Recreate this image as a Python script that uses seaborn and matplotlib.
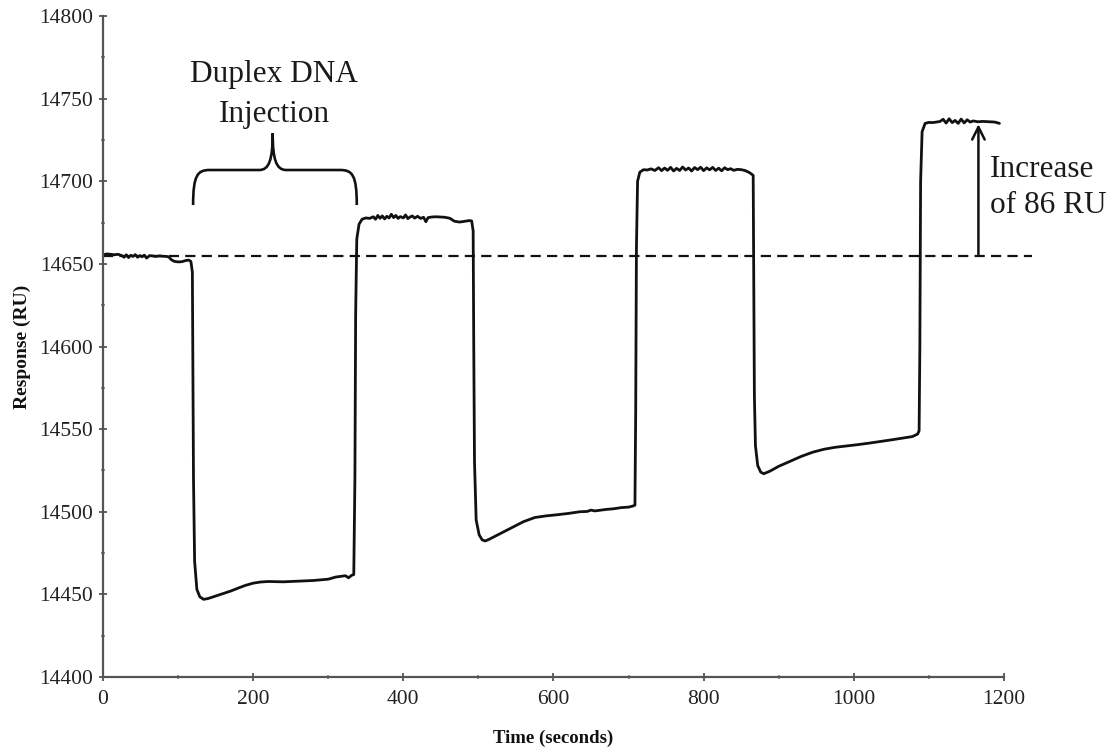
import numpy as np
import pandas as pd
import matplotlib
matplotlib.use("Agg")
import matplotlib.pyplot as plt
from matplotlib.path import Path
from matplotlib.patches import PathPatch
import seaborn as sns

# ---------------- data ----------------
time_s = [
    0, 5, 10, 15, 20, 25, 28, 31, 34, 37, 40, 43, 46, 49, 52, 55, 58, 62, 66, 70,
    75, 80, 85, 88, 91, 95, 100, 105, 110, 114, 117,
    119, 119.5, 120.5, 122, 125, 129, 134, 140, 150, 160, 170, 180, 190, 200, 210,
    220, 240, 260, 280, 300, 310, 318, 323, 327, 331, 334,
    335.5, 336.5, 338, 341, 345, 350, 355, 360, 363, 366, 369, 372, 375, 378, 381,
    384, 387, 390, 393, 396, 400, 403, 406, 409, 412, 415, 419, 423, 427, 430, 433,
    437, 442, 448, 455, 462, 468, 475, 482, 488, 491,
    493, 493.8, 494.8, 497, 501, 505, 509, 515, 530, 545, 560, 575, 590, 605, 620,
    635, 645, 650, 655, 660, 670, 680, 690, 700, 706, 708.5,
    709.5, 710.5, 712, 715, 720, 725, 730, 735, 740, 744, 748, 752, 756, 760, 764,
    768, 772, 776, 780, 784, 788, 792, 796, 800, 804, 808, 812, 816, 820, 824, 828,
    832, 836, 840, 845, 850, 855, 860, 864, 866,
    866.8, 867.6, 869, 872, 876, 880, 888, 900, 915, 930, 945, 960, 975, 990, 1005,
    1020, 1035, 1050, 1065, 1078, 1085, 1087,
    1088, 1089, 1091, 1095, 1100, 1105, 1110, 1115, 1119, 1123, 1127, 1131, 1135,
    1139, 1143, 1147, 1151, 1155, 1159, 1165, 1172, 1180, 1188, 1194,
]
response_ru = [
    14655.5, 14656, 14655.8, 14655.5, 14655.8, 14655, 14654, 14655.5, 14653.8, 14655.2,
    14654.5, 14655.6, 14654, 14655, 14654.3, 14655.3, 14653.5, 14655, 14654.8, 14654.5,
    14654.8, 14654.6, 14654.5, 14654, 14652.5, 14651.5, 14651.2, 14651.3, 14652, 14652.3,
    14651.5,
    14645, 14600, 14520, 14470, 14453, 14448.5, 14447, 14447.5, 14449, 14450.5, 14452,
    14453.8, 14455.5, 14456.8, 14457.5, 14457.8, 14457.6, 14458, 14458.4, 14459.2,
    14460.5, 14461, 14461.3, 14460, 14461.5, 14462,
    14520, 14620, 14665, 14674, 14677, 14677.8, 14677.5, 14678.5, 14677, 14679.3,
    14677.6, 14679, 14677.2, 14678.8, 14677.8, 14680, 14678, 14679.3, 14677.5, 14678.6,
    14677.8, 14679.6, 14677.4, 14678.4, 14679, 14677.7, 14678.8, 14677.5, 14678.2,
    14675.5, 14678, 14678.3, 14678.5, 14678.4, 14678.2, 14677.6, 14675.8, 14675.3,
    14675.8, 14676.2, 14676,
    14670, 14600, 14530, 14495, 14486, 14483, 14482.3, 14483.5, 14487, 14490.5, 14494,
    14496.5, 14497.5, 14498.2, 14499, 14500, 14500.2, 14501, 14500.5, 14500.8, 14501.4,
    14501.8, 14502.5, 14502.8, 14503.5, 14504,
    14560, 14660, 14700, 14705.5, 14707, 14706.8, 14707.5, 14706.5, 14708.2, 14706.4,
    14708, 14706.6, 14708.4, 14706.2, 14707.8, 14706.5, 14708.6, 14706.8, 14708,
    14706.2, 14708.3, 14707, 14708.5, 14706.4, 14708.1, 14706.9, 14708.4, 14706.5,
    14707.9, 14706.3, 14708.2, 14707, 14707.6, 14706.6, 14707.2, 14707, 14706.5,
    14705.5, 14704.3, 14703.5,
    14640, 14570, 14540, 14528, 14524, 14523, 14524.5, 14527.5, 14530.5, 14533.5,
    14536, 14537.8, 14539, 14539.8, 14540.6, 14541.5, 14542.5, 14543.5, 14544.6,
    14545.5, 14547, 14549,
    14600, 14700, 14730, 14735, 14735.6, 14735.5, 14735.8, 14736.2, 14737.5, 14735.2,
    14737.8, 14735.5, 14736.8, 14735, 14737.6, 14735.3, 14737.2, 14735.8, 14736.5,
    14736, 14736.2, 14736, 14735.8, 14735,
]

baseline_ru = 14655
increase_ru = 86
arrow_time = 1166
dash_end_time = 1238

brace_left, brace_right, brace_mid = 120, 338, 226
brace_foot, brace_bar, brace_tip = 14685.6, 14706.8, 14729

x_ticks = [0, 200, 400, 600, 800, 1000, 1200]
y_ticks = [14400, 14450, 14500, 14550, 14600, 14650, 14700, 14750, 14800]

df = pd.DataFrame({"Time (seconds)": time_s, "Response (RU)": response_ru})

# ---------------- figure ----------------
sns.set_style("ticks")
plt.rcParams["font.family"] = ["Liberation Serif", "DejaVu Serif"]

fig = plt.figure(figsize=(11.15, 7.54), dpi=100)
ax = fig.add_axes([0.0924, 0.1021, 0.8080, 0.8767])

sns.lineplot(data=df, x="Time (seconds)", y="Response (RU)", sort=False,
             estimator=None, color="#111111", linewidth=2.0, ax=ax)

# dashed baseline
ax.plot([0, dash_end_time], [baseline_ru, baseline_ru], color="#111111",
        linewidth=1.6, dashes=(4.6, 2.8), clip_on=False, zorder=1)

# arrow
ax.annotate("", xy=(arrow_time, baseline_ru + increase_ru - 6.5),
            xytext=(arrow_time, baseline_ru), xycoords="data",
            arrowprops=dict(arrowstyle="->,head_length=0.9,head_width=0.45",
                            color="#111111", lw=1.8, shrinkA=0, shrinkB=0))
ax.text(arrow_time + 15, 14702.6, "Increase", fontsize=22.5, ha="left",
        va="baseline", color="#1a1a1a")
ax.text(arrow_time + 15, 14680.8, "of 86 RU", fontsize=22.5, ha="left",
        va="baseline", color="#1a1a1a")

# brace
L, R, M = brace_left, brace_right, brace_mid
verts = [
    (L, brace_foot),
    (L, brace_bar - 3), (L + 6, brace_bar), (L + 22, brace_bar),
    (M - 18, brace_bar),
    (M - 5, brace_bar), (M, brace_bar + 6), (M, brace_tip),
    (M, brace_bar + 6), (M + 5, brace_bar), (M + 18, brace_bar),
    (R - 22, brace_bar),
    (R - 6, brace_bar), (R, brace_bar - 3), (R, brace_foot),
]
codes = [Path.MOVETO, Path.CURVE4, Path.CURVE4, Path.CURVE4, Path.LINETO,
         Path.CURVE4, Path.CURVE4, Path.CURVE4, Path.CURVE4, Path.CURVE4,
         Path.CURVE4, Path.LINETO, Path.CURVE4, Path.CURVE4, Path.CURVE4]
ax.add_patch(PathPatch(Path(verts, codes), facecolor="none", edgecolor="#111111",
                       lw=1.9, clip_on=False))
ax.text(M + 2, 14760, "Duplex DNA", fontsize=22.5, ha="center", va="baseline",
        color="#1a1a1a")
ax.text(M + 2, 14735.9, "Injection", fontsize=22.5, ha="center", va="baseline",
        color="#1a1a1a")

# axes styling
ax.set_xlim(0, 1200)
ax.set_ylim(14400, 14800)
ax.set_xticks(x_ticks)
ax.set_yticks(y_ticks)
ax.set_xticks([100, 300, 500, 700, 900, 1100], minor=True)
ax.set_yticks([14425, 14475, 14525, 14575, 14625, 14675, 14725, 14775], minor=True)
for s in ("top", "right"):
    ax.spines[s].set_visible(False)
for s in ("left", "bottom"):
    ax.spines[s].set_color("#555555")
    ax.spines[s].set_linewidth(1.6)
ax.tick_params(axis="both", which="major", direction="inout", length=6,
               width=1.3, color="#555555", labelsize=15.5, labelcolor="#222222",
               pad=4)
ax.tick_params(axis="both", which="minor", direction="inout", length=3,
               width=1.1, color="#777777")
ax.tick_params(axis="x", which="major", pad=6)
ax.set_xlabel("Time (seconds)", fontsize=13.5, fontweight="bold", labelpad=15,
              color="#111111")
ax.set_ylabel("Response (RU)", fontsize=14, fontweight="bold", labelpad=6,
              color="#111111")

fig.savefig("out.png", dpi=100)
